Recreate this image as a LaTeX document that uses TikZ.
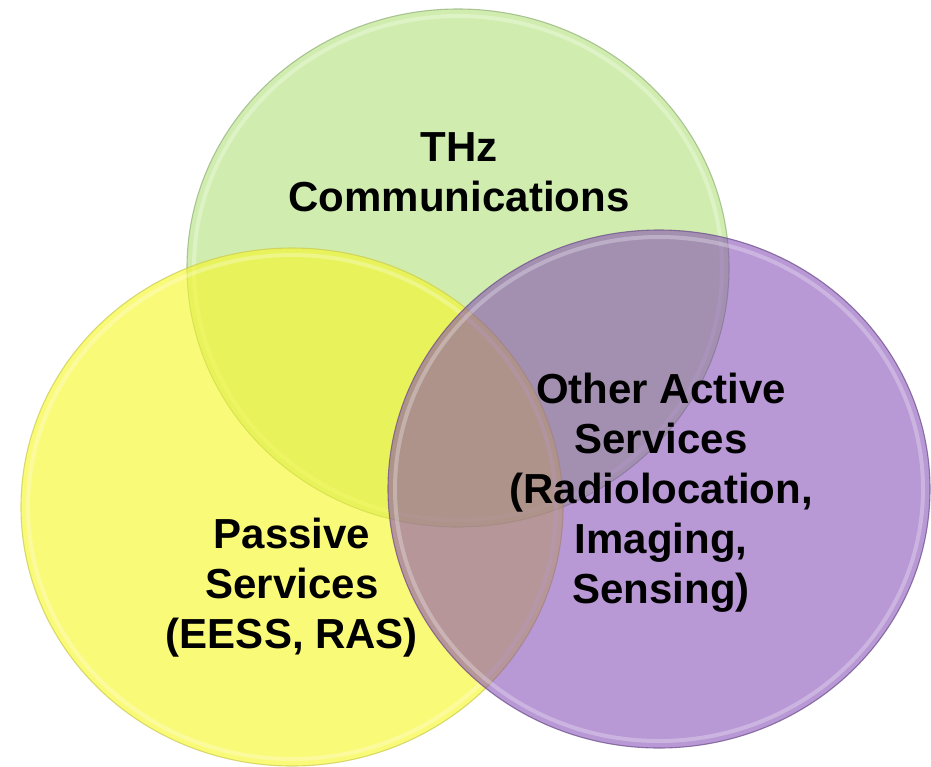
\documentclass[tikz,border=0pt]{standalone}
\usepackage{fontspec}
\setmainfont{Liberation Sans}
\usetikzlibrary{shapes.geometric}

% base colours of the three translucent discs
\definecolor{thzgreen}{RGB}{177,225,123}
\definecolor{thzgreenrim}{RGB}{150,180,125}
\definecolor{passyellow}{RGB}{248,248,40}
\definecolor{passyellowrim}{RGB}{205,205,80}
\definecolor{actpurple}{RGB}{127,69,180}
\definecolor{actpurplerim}{RGB}{110,80,140}

\begin{document}
\begin{tikzpicture}[x=1pt,y=-1pt,
  disc/.style={ellipse, inner sep=0pt, minimum width=542pt, minimum height=518pt,
    line width=1.1pt, draw opacity=0.75},
  gloss/.style={ellipse, inner sep=0pt, minimum width=528pt, minimum height=504pt,
    draw=white, draw opacity=0.28, line width=4pt},
  caption/.style={font=\bfseries\fontsize{42}{50}\selectfont, align=center, text=black}]
\useasboundingbox (0,0) rectangle (931,766);
\fill[white] (0,0) rectangle (931,766);

% THz communications
\node[disc, fill=thzgreen, fill opacity=0.6, draw=thzgreenrim] (green) at (458,268) {};
\node[gloss] (greengloss) at (green.center) {};
% passive services
\node[disc, fill=passyellow, fill opacity=0.62, draw=passyellowrim] (yellow) at (292,507) {};
\node[gloss] (yellowgloss) at (yellow.center) {};
% other active services
\node[disc, fill=actpurple, fill opacity=0.55, draw=actpurplerim] (purple) at (659,489) {};
\node[gloss] (purplegloss) at (purple.center) {};

\node[caption] (thz) at (459,172) {THz\\Communications};
\node[caption] (passive) at (292,588) {Passive\\Services\\(EESS, RAS)};
\node[caption] (active) at (661,493) {Other Active\\Services\\(Radiolocation,\\Imaging,\\Sensing)};
\end{tikzpicture}
\end{document}
